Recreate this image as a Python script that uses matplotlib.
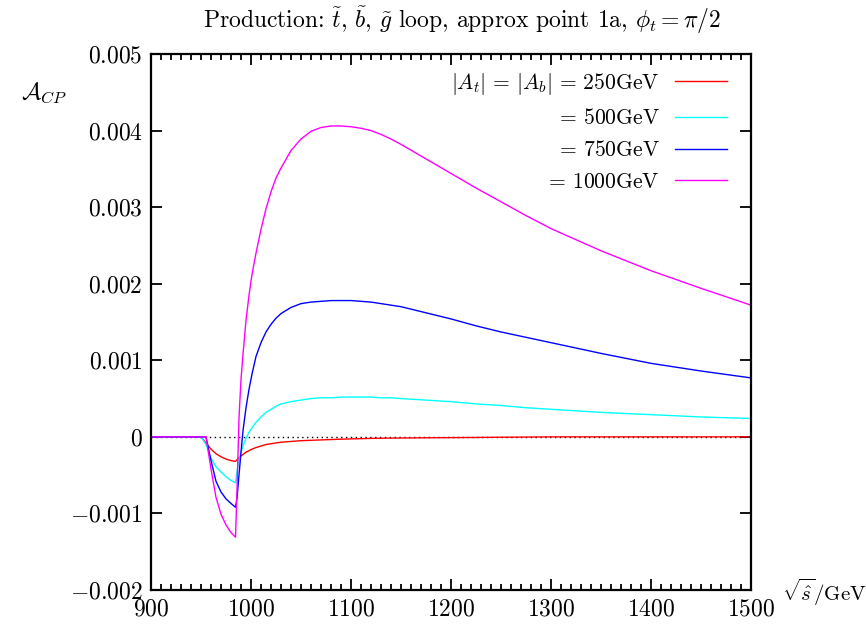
"""A_CP vs sqrt(s) for the stop/sbottom/gluino loop, four |A_t| values."""

import matplotlib
matplotlib.use("Agg")
import matplotlib.pyplot as plt
from matplotlib.ticker import FixedLocator, MultipleLocator, FuncFormatter

# sqrt(s) grid in GeV
SQRT_S = [900, 950, 955, 960, 965, 970, 975, 980, 984.5, 986, 988, 990, 992,
          995, 998, 1001, 1005, 1010, 1015, 1020, 1025, 1030, 1040, 1050,
          1060, 1070, 1080, 1090, 1100, 1110, 1120, 1130, 1140, 1150, 1175,
          1200, 1225, 1250, 1275, 1300, 1350, 1400, 1450, 1500]

ACP_250 = [0, 0, -0.00008, -0.00016, -0.00022, -0.00026, -0.00029, -0.00031,
           -0.00032, -0.0003, -0.00027, -0.00025, -0.00023, -0.0002, -0.00018,
           -0.00016, -0.00014, -0.00012, -0.0001, -0.00009, -0.00008, -0.00007,
           -0.00006, -0.00005, -0.000045, -0.00004, -0.000035, -0.00003,
           -0.000027, -0.000024, -0.00002, -0.000018, -0.000016, -0.000015,
           -0.000012, -0.00001, -0.000008, -0.000005, -0.000003, 0, 0, 0, 0, 0]

ACP_500 = [0, 0, -0.0001, -0.00028, -0.00039, -0.00046, -0.00052, -0.00057,
           -0.0006, -0.00045, -0.0003, -0.0002, -0.00012, -0.00002, 0.00006,
           0.00012, 0.00019, 0.00026, 0.00032, 0.00036, 0.0004, 0.00043,
           0.00046, 0.00048, 0.0005, 0.00051, 0.00051, 0.00052, 0.00052,
           0.00052, 0.00052, 0.00051, 0.00051, 0.0005, 0.00048, 0.00046,
           0.00043, 0.00041, 0.00038, 0.00036, 0.00032, 0.00029, 0.00026,
           0.00024]

ACP_750 = [0, 0, 0, -0.00031, -0.00058, -0.00072, -0.00081, -0.00087,
           -0.00092, -0.0008, -0.0005, -0.0002, 0.00008, 0.00038, 0.00062,
           0.00082, 0.00105, 0.00123, 0.00137, 0.00147, 0.00155, 0.00161,
           0.00169, 0.00174, 0.00176, 0.00177, 0.00178, 0.00178, 0.00178,
           0.00177, 0.00176, 0.00174, 0.00172, 0.0017, 0.00162, 0.00154,
           0.00145, 0.00137, 0.0013, 0.00123, 0.00109, 0.00096, 0.00086,
           0.00077]

ACP_1000 = [0, 0, 0, -0.00042, -0.00079, -0.00101, -0.00115, -0.00125,
            -0.00131, -0.0007, 0.00025, 0.00075, 0.00108, 0.00152, 0.00185,
            0.00212, 0.0024, 0.00271, 0.00298, 0.0032, 0.00338, 0.00351,
            0.00374, 0.00389, 0.00399, 0.00404, 0.00406, 0.00406, 0.00405,
            0.00403, 0.004, 0.00395, 0.00389, 0.00382, 0.00363, 0.00344,
            0.00325, 0.00307, 0.00289, 0.00272, 0.00243, 0.00217, 0.00194,
            0.00172]

LABELS = [r"$|A_t|\,=\,|A_b|\,=\,250\mathrm{GeV}$",
          r"$=\,500\mathrm{GeV}$",
          r"$=\,750\mathrm{GeV}$",
          r"$=\,1000\mathrm{GeV}$"]
COLORS = ["#ff0000", "#00ffff", "#0000ff", "#ff00ff"]

Y_TICKS = [-0.002, -0.001, 0, 0.001, 0.002, 0.003, 0.004, 0.005]


def fmt_y(v, pos):
    if abs(v) < 1e-12:
        return r"$0$"
    return rf"${v:.3f}$"


def main():
    plt.rcParams.update({
        "font.family": "serif",
        "font.serif": ["cmr10"],
        "mathtext.fontset": "cm",
        "axes.formatter.use_mathtext": True,
        "font.size": 17,
    })

    fig = plt.figure(figsize=(8.66, 6.24), dpi=100)
    ax = fig.add_axes([151 / 866, 1 - 590 / 624, 600 / 866, 536 / 624])

    ax.plot([900, 1500], [0, 0], color="black", linestyle=(0, (1, 2.5)),
            linewidth=1.0, zorder=1)
    for ys, c, lab in zip([ACP_250, ACP_500, ACP_750, ACP_1000], COLORS, LABELS):
        ax.plot(SQRT_S, ys, color=c, linewidth=1.0, label=lab, zorder=2)

    ax.set_xlim(900, 1500)
    ax.set_ylim(-0.002, 0.005)
    ax.xaxis.set_major_locator(MultipleLocator(100))
    ax.xaxis.set_minor_locator(MultipleLocator(10))
    ax.xaxis.set_major_formatter(FuncFormatter(lambda v, p: rf"${v:.0f}$"))
    ax.yaxis.set_major_locator(FixedLocator(Y_TICKS))
    ax.yaxis.set_major_formatter(FuncFormatter(fmt_y))
    ax.tick_params(which="both", direction="in", top=True, right=True,
                   width=1.3, labelsize=17)
    ax.tick_params(which="major", length=8, pad=6)
    ax.tick_params(which="minor", length=4)
    for s in ax.spines.values():
        s.set_linewidth(1.6)

    ax.legend(loc="upper right", bbox_to_anchor=(0.975, 0.985),
              frameon=False, markerfirst=False, handlelength=2.45,
              handletextpad=0.7, labelspacing=0.55, fontsize=15.5,
              borderaxespad=0.0)

    fig.text(462 / 866, 1 - 20 / 624,
             r"Production: $\tilde{t}$, $\tilde{b}$, $\tilde{g}$ loop, approx point 1a, $\phi_t = \pi/2$",
             ha="center", va="center", fontsize=17)
    fig.text(44 / 866, 1 - 93 / 624, r"$\mathcal{A}_{CP}$",
             ha="center", va="center", fontsize=17)
    fig.text(782 / 866, 1 - 592 / 624, r"$\sqrt{\hat{s}}/\mathrm{GeV}$",
             ha="left", va="center", fontsize=15)

    fig.savefig("out.png", dpi=100)
    plt.close(fig)


if __name__ == "__main__":
    main()
